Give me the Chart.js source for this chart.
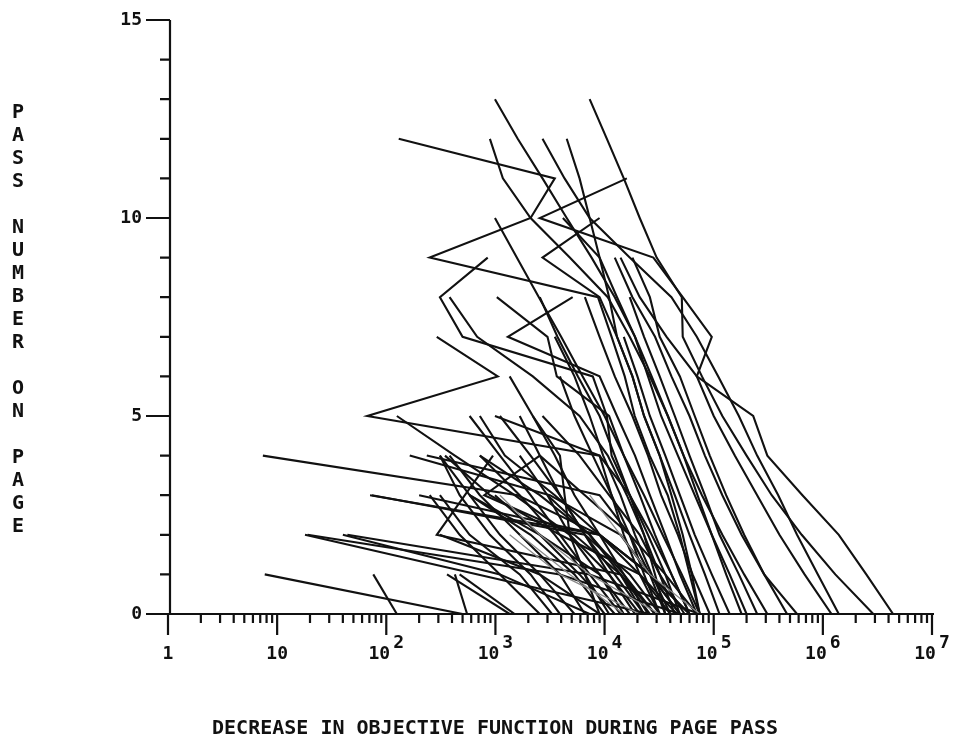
<!DOCTYPE html>
<html><head><meta charset="utf-8">
<script src="https://cdn.jsdelivr.net/npm/chart.js@4/dist/chart.umd.min.js"></script>
<style>html,body{margin:0;padding:0;background:#fff;}canvas{display:block;}</style>
</head><body>
<canvas id="c" width="956" height="752"></canvas>
<script>
// Decrease in objective function for each pass (index = pass number on page)
const page01 = [7.45e4, 6.03e4, 4.88e4, 3.79e4, 2.59e4, 1.89e4, 1.53e4, 1.16e4, 8.7e3, 2.5e2, 2.1e3, 3.5e3, 1.3e2];
const page02 = [3.1e5, 1.9e5, 1.2e5, 7.8e4, 5.3e4, 3.8e4, 2.7e4, 1.9e4, 1.24e4, 7.6e3, 4.5e3, 2.7e3, 1.6e3, 9.9e2];
const page03 = [2.9e6, 1.3e6, 6.4e5, 3.4e5, 2.0e5, 1.2e5, 7.8e4, 5.2e4, 5.1e4, 3.0e4, 2.1e4, 1.5e4, 1.05e4, 7.3e3];
const page04 = [4.4e6, 2.5e6, 1.4e6, 6.5e5, 3.1e5, 2.3e5, 7.0e4, 9.6e4, 5.2e4, 2.8e4, 2.55e3, 1.6e4];
const page05 = [1.8e5, 1.3e5, 9.6e4, 7.1e4, 5.3e4, 3.8e4, 2.6e4, 1.7e4, 1.07e4, 4.8e3, 2.1e3, 1.17e3, 8.9e2];
const page06 = [1.4e6, 9.0e5, 5.8e5, 3.9e5, 2.5e5, 1.7e5, 1.1e5, 7.0e4, 4.1e4, 1.7e4, 7.3e3, 4.3e3, 2.7e3];
const page07 = [7.45e4, 6.3e4, 5.2e4, 4.1e4, 3.2e4, 2.3e4, 1.8e4, 1.3e4, 1.1e4, 9.0e3, 7.3e3, 5.9e3, 4.5e3];
const page08 = [4.9e4, 3.6e4, 2.5e4, 1.7e4, 1.16e4, 1.05e4, 7.8e3, 5.0e2, 3.1e2, 8.5e2];
const page09 = [6.0e4, 4.1e4, 2.7e4, 1.7e4, 9.0e3, 67, 1.05e3, 2.9e2];
const page10 = [4.4e4, 3.2e4, 2.3e4, 1.6e4, 1.07e4, 5.9e3, 2.2e3, 6.8e2, 3.8e2];
const page11 = [6.0e4, 4.1e4, 2.9e4, 2.1e4, 1.5e4, 1.1e4, 3.65e3, 3.0e3, 1.03e3];
const page12 = [7.45e4, 5.1e4, 3.4e4, 2.3e4, 1.5e4, 1.0e4, 6.3e3, 4.0e3, 2.5e3, 1.57e3, 9.9e2];
const page13 = [3.6e4, 2.9e4, 2.3e4, 1.7e4, 1.24e4, 9.0e3, 5.7e3, 3.7e3, 2.55e3];
const page14 = [7.0e4, 4.9e4, 3.6e4, 2.6e4, 1.9e4, 1.3e4, 9.0e3, 1.3e3, 5.1e3];
const page15 = [1.13e5, 8.3e4, 6.0e4, 4.4e4, 3.2e4, 2.3e4, 1.8e4, 1.3e4, 9.0e3, 2.7e3, 9.0e3];
const page16 = [2.0e5, 1.4e5, 9.6e4, 6.7e4, 4.7e4, 3.3e4, 2.5e4, 1.9e4, 1.3e4, 9.0e3, 4.15e3];
const page17 = [5.8e5, 2.9e5, 1.9e5, 1.3e5, 9.2e4, 6.7e4, 4.9e4, 3.2e4, 2.6e4, 1.8e4];
const page18 = [1.2e6, 6.8e5, 4.0e5, 2.5e5, 1.56e5, 1.0e5, 7.0e4, 3.7e4, 2.1e4, 1.4e4];
const page19 = [4.7e5, 2.9e5, 1.8e5, 1.2e5, 8.3e4, 6.0e4, 4.1e4, 2.9e4, 1.8e4, 1.24e4];
const page20 = [6.0e4, 2.6e4, 9.0e3, 1.6e3, 7.4];
const page21 = [5.0e2, 7.7];
const page22 = [1.25e2, 76];
const page23 = [2.6e4, 6.9e2, 18];
const page24 = [4.9e4, 3.9e3, 19];
const page25 = [7.3e3, 1.1e3, 40];
const page26 = [7.45e4, 7.3e3, 44];
const page27 = [6.0e4, 2.6e4, 9.0e3, 71];
const page28 = [3.2e4, 1.7e4, 6.6e3, 74];
const page29 = [4.9e4, 2.6e4, 9.0e3, 2.0e2];
const page30 = [4.9e4, 2.6e4, 1.4e4, 3.15e3, 1.64e2];
const page31 = [3.6e4, 2.6e4, 1.7e4, 9.0e3, 2.35e2];
const page32 = [2.1e4, 1.1e4, 4.8e3, 1.5e3, 4.25e2, 1.25e2];
const page33 = [1.4e4, 7.3e3, 3.9e3, 2.1e3, 1.1e3, 5.8e2];
const page34 = [3.2e4, 2.1e4, 1.5e4, 1.16e4, 9.0e3, 9.9e2];
const page35 = [9.0e3, 6.6e3, 4.8e3, 4.3e3, 3.9e3, 2.2e3];
const page36 = [2.9e4, 1.4e4, 2.9e2, 5.25e2, 9.5e2];
const page37 = [5.5e2, 4.25e2];
const page38 = [2.55e3, 1.1e3, 4.7e2, 2.5e2];
const page39 = [3.3e3, 1.67e3, 5.8e2, 3.1e2];
const page40 = [5.3e3, 2.55e3, 1.1e3, 5.8e2, 3.1e2];
const page41 = [1.1e4, 6.6e3, 3.5e3, 1.67e3, 7.2e2];
const page42 = [1.7e4, 9.0e3, 2.55e3, 5.8e2];
const page43 = [2.3e4, 1.24e4, 6.6e3, 3.9e3, 2.55e3, 1.67e3];
const page44 = [2.9e4, 1.5e4, 7.3e3, 3.0e3];
const page45 = [7.0e4, 3.6e4, 1.7e4, 6.6e3, 2.55e3];
const page46 = [4.0e4, 2.1e4, 9.0e3, 3.5e3, 1.22e3, 7.2e2];
const page47 = [3.9e3, 2.1e3, 8.9e2, 4.7e2, 3.1e2];
const page48 = [1.35e3, 3.6e2];
const page49 = [1.5e3, 4.7e2];
const page50 = [1.24e4, 5.9e3, 2.55e3, 9.9e2];
const page51 = [1.5e4, 9.0e3, 4.8e3, 3.0e3, 1.67e3];
const page52 = [1.9e4, 1.1e4, 6.6e3, 3.9e3, 2.1e3, 1.1e3];
const page53 = [2.5e4, 1.5e4, 9.0e3, 5.3e3, 3.5e3, 2.2e3, 1.35e3];
const page54 = [3.2e4, 2.3e4, 1.7e4, 1.16e4, 7.8e3, 5.3e3, 3.9e3];
const page55 = [4.0e4, 2.7e4, 1.9e4, 1.4e4, 9.7e3, 7.3e3, 5.3e3, 3.5e3];
const page56 = [9.2e4, 6.4e4, 4.7e4, 3.3e4, 2.5e4, 1.8e4, 1.24e4, 9.0e3, 6.6e3];
const page57 = [1.4e5, 9.6e4, 6.7e4, 4.9e4, 3.6e4, 2.6e4, 2.0e4, 1.5e4];
const page58 = [2.5e5, 1.7e5, 1.13e5, 8.3e4, 6.0e4, 4.4e4, 3.2e4, 2.3e4, 1.7e4];
const page59 = [1.0e4, 5.3e3, 2.1e3, 5.8e2];
const page60 = [6.6e3, 3.9e3, 1.67e3, 7.2e2, 3.8e2];
const page61 = [5.4e4, 3.2e4, 2.1e4, 1.1e4, 5.9e3, 2.7e3];
const page62 = [2.3e4, 1.4e4, 7.3e3, 2.55e3, 7.2e2];
const page63 = [4.6e4, 2.1e4, 3.9e3, 8.9e2, 3.45e2];
const page64 = [9.0e3, 2.55e3, 3.1e2];
const page65 = [2.6e4, 1.4e4, 5.3e3, 7.9e2, 2.55e3];
// fainter traces
const grey01 = [2.1e4, 3.9e3, 1.35e3];
const grey02 = [1.5e4, 4.8e3, 1.67e3];
const grey03 = [3.2e4, 7.3e3, 2.55e3, 1.1e3];
const grey04 = [7.45e4, 2.6e4, 1.4e4, 7.3e3];

const darkPages = [page01,page02,page03,page04,page05,page06,page07,page08,page09,page10,
  page11,page12,page13,page14,page15,page16,page17,page18,page19,page20,
  page21,page22,page23,page24,page25,page26,page27,page28,page29,page30,
  page31,page32,page33,page34,page35,page36,page37,page38,page39,page40,
  page41,page42,page43,page44,page45,page46,page47,page48,page49,page50,
  page51,page52,page53,page54,page55,page56,page57,page58,page59,page60,
  page61,page62,page63,page64,page65];
const greyPages = [grey01, grey02, grey03, grey04];

const xTickValues = [1, 10, 100, 1e3, 1e4, 1e5, 1e6, 1e7];
const xTickBase = ['1', '10', '10', '10', '10', '10', '10', '10'];
const xTickExp = ['', '', '2', '3', '4', '5', '6', '7'];
const yTickValues = [0, 5, 10, 15];
const yTickLabels = ['0', '5', '10', '15'];
const xTitle = 'DECREASE IN OBJECTIVE FUNCTION DURING PAGE PASS';
const yTitle = 'PASS NUMBER ON PAGE';

function toPoints(arr) { return arr.map((v, i) => ({ x: v, y: i })); }

const datasets = [];
greyPages.forEach(p => datasets.push({ data: toPoints(p), borderColor: '#8a8a8a', borderWidth: 1.3, pointRadius: 0, tension: 0, fill: false }));
darkPages.forEach(p => datasets.push({ data: toPoints(p), borderColor: '#111', borderWidth: 2.1, pointRadius: 0, tension: 0, fill: false }));

const FONT = '"DejaVu Sans Mono", "Liberation Mono", monospace';

const plotterAxes = {
  id: 'plotterAxes',
  beforeDraw(chart) {
    const c = chart.ctx; c.save(); c.fillStyle = '#fff'; c.fillRect(0, 0, chart.width, chart.height); c.restore();
  },
  afterDraw(chart) {
    const ctx = chart.ctx, xs = chart.scales.x, ys = chart.scales.y;
    const x0 = xs.getPixelForValue(1), y0 = ys.getPixelForValue(0);
    const xEnd = xs.getPixelForValue(1e7), yTop = ys.getPixelForValue(15);
    ctx.save();
    ctx.strokeStyle = '#111'; ctx.lineWidth = 2.2; ctx.lineCap = 'butt';
    ctx.beginPath();
    ctx.moveTo(x0 + 2, yTop); ctx.lineTo(x0 + 2, y0);
    ctx.moveTo(x0 - 22, y0); ctx.lineTo(xEnd + 2, y0);
    for (let k = 0; k <= 15; k++) {
      const y = ys.getPixelForValue(k); const len = (k % 5 === 0) ? 24 : 10;
      ctx.moveTo(x0 + 2 - len, y); ctx.lineTo(x0 + 2, y);
    }
    for (let d = 0; d < 7; d++) for (let m = 1; m <= 9; m++) {
      const x = xs.getPixelForValue(m * Math.pow(10, d)); const len = (m === 1) ? 21 : 9;
      ctx.moveTo(x, y0); ctx.lineTo(x, y0 + len);
    }
    ctx.moveTo(xEnd, y0); ctx.lineTo(xEnd, y0 + 21);
    ctx.stroke();

    ctx.fillStyle = '#111';
    ctx.font = 'bold 18px ' + FONT;
    ctx.textBaseline = 'middle';
    ctx.textAlign = 'right';
    yTickValues.forEach((v, i) => ctx.fillText(yTickLabels[i], x0 - 26, ys.getPixelForValue(v)));
    ctx.textAlign = 'left';
    xTickValues.forEach((v, i) => {
      const x = xs.getPixelForValue(v);
      const b = xTickBase[i], e = xTickExp[i];
      const wb = ctx.measureText(b).width, we = e ? ctx.measureText(e).width + 3 : 0;
      const start = x - (wb + we) / 2;
      ctx.fillText(b, start, y0 + 40);
      if (e) ctx.fillText(e, start + wb + 3, y0 + 29);
    });
    ctx.font = 'bold 20px ' + FONT;
    ctx.textAlign = 'center';
    ctx.fillText(xTitle, 495, 729);
    yTitle.split('').forEach((ch, i) => { if (ch !== ' ') ctx.fillText(ch, 18, 113 + i * 23); });
    ctx.restore();
  }
};

new Chart(document.getElementById('c'), {
  type: 'line',
  data: { datasets },
  options: {
    responsive: false, animation: false, devicePixelRatio: 1,
    layout: { padding: { left: 168, right: 24, top: 20, bottom: 138 } },
    plugins: { legend: { display: false }, tooltip: { enabled: false } },
    scales: {
      x: { type: 'logarithmic', min: 1, max: 1e7, display: false },
      y: { type: 'linear', min: 0, max: 15, display: false }
    }
  },
  plugins: [plotterAxes]
});
</script>
</body></html>
